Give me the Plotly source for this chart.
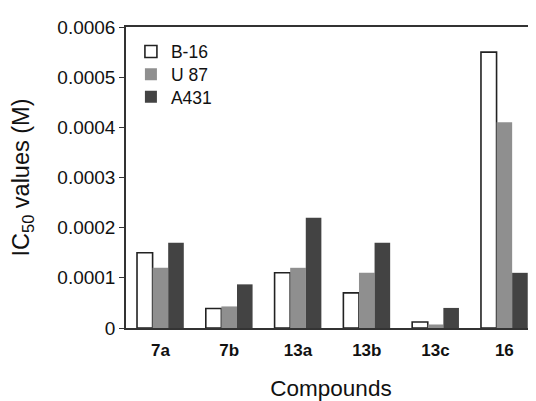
import plotly.graph_objects as go

categories = ["7a", "7b", "13a", "13b", "13c", "16"]
b16 = [0.00015, 0.000039, 0.00011, 0.00007, 0.000012, 0.00055]
u87 = [0.00012, 0.000043, 0.00012, 0.00011, 0.000007, 0.00041]
a431 = [0.00017, 0.000087, 0.00022, 0.00017, 0.00004, 0.00011]
y_ticks = [0, 0.0001, 0.0002, 0.0003, 0.0004, 0.0005, 0.0006]
y_tick_labels = ["0", "0.0001", "0.0002", "0.0003", "0.0004", "0.0005", "0.0006"]

fig = go.Figure()
fig.add_trace(go.Bar(name="B-16", x=categories, y=b16, legend="legend",
                     marker=dict(color="white", line=dict(color="#222222", width=1.6))))
fig.add_trace(go.Bar(name="U 87", x=categories, y=u87, legend="legend2",
                     marker=dict(color="#8f8f8f", line=dict(width=0))))
fig.add_trace(go.Bar(name="A431", x=categories, y=a431, legend="legend3",
                     marker=dict(color="#434343", line=dict(width=0))))

font = "Liberation Sans, Arial, sans-serif"
leg_common = dict(x=0.012, xanchor="left", yanchor="middle",
                  bgcolor="rgba(0,0,0,0)", font=dict(size=17.5, color="#111111"),
                  itemwidth=30)
# page body has an 8px margin, so the figure is offset by 8px right and down
fig.update_layout(
    width=528, height=393,
    margin=dict(l=118, r=0, t=19, b=66),
    paper_bgcolor="white", plot_bgcolor="white",
    barmode="group", bargap=0.32, bargroupgap=0,
    font=dict(family=font, color="#111111", size=18),
    showlegend=True,
    legend=dict(y=0.918, **leg_common),
    legend2=dict(y=0.843, **leg_common),
    legend3=dict(y=0.768, **leg_common),
    xaxis=dict(range=[-0.5, 5.46], showline=True, linecolor="#333333", linewidth=1.5,
               mirror=True, ticks="outside", ticklen=6, tickcolor="rgba(0,0,0,0)",
               showgrid=False,
               tickfont=dict(size=17, family=font, weight="bold"),
               title=dict(text="Compounds", font=dict(size=22.5), standoff=25)),
    yaxis=dict(range=[0, 0.0006], tickvals=y_ticks, ticktext=y_tick_labels,
               showline=True, linecolor="#333333", linewidth=1.5,
               ticks="outside", ticklen=5, tickcolor="#333333", showgrid=False,
               zeroline=False, tickfont=dict(size=19),
               title=dict(text="IC<sub>50</sub> values (M)", font=dict(size=23.5), standoff=25)),
)

fig.write_html("out.html")
